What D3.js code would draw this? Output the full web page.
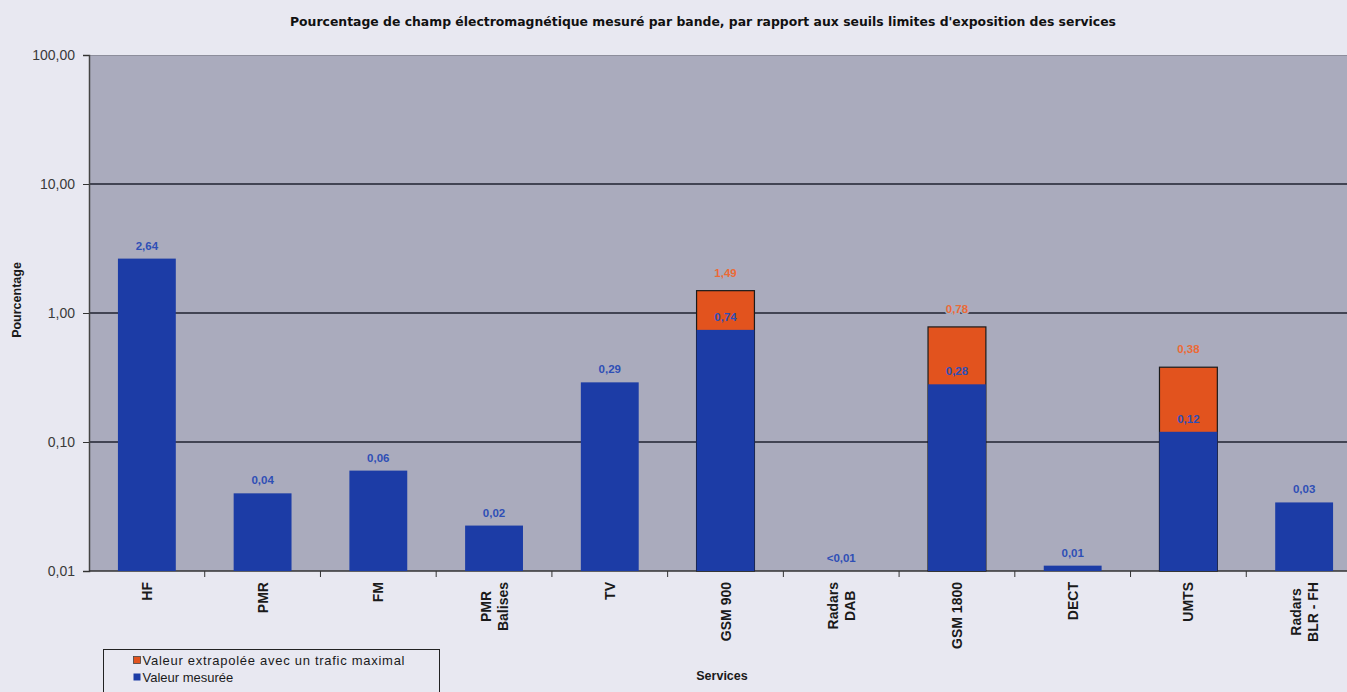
<!DOCTYPE html>
<html>
<head>
<meta charset="utf-8">
<script src="https://cdn.jsdelivr.net/npm/d3@7"></script>
<style>
  html, body { margin: 0; padding: 0; background: #e8e8f1; }
  svg { display: block; }
</style>
</head>
<body>
<div id="chart"></div>
<script>
// Services (category labels, \n = line break)
const services = ['HF', 'PMR', 'FM', 'PMR\nBalises', 'TV', 'GSM 900', 'Radars\nDAB', 'GSM 1800', 'DECT', 'UMTS', 'Radars\nBLR - FH'];
// Valeur mesurée (%)
const measured = [2.64, 0.04, 0.06, 0.0225, 0.29, 0.74, 0.005, 0.28, 0.011, 0.12, 0.034];
// Valeur extrapolée avec un trafic maximal (%)
const extrapolated = [null, null, null, null, null, 1.49, null, 0.78, null, 0.38, null];
// y ticks
const yTicks = [0.01, 0.1, 1, 10, 100];
const gridValues = [0.1, 1, 10];

const width = 1347;
const height = 692;
const margin = { top: 55, left: 89, bottom: 121 };
const plotRight = 1362;

const blue = '#1c3ca6';
const orange = '#e2531e';
const plotBg = '#aaabbd';

const svg = d3.select('#chart')
    .append('svg')
    .attr('width', width)
    .attr('height', height);

const x = d3.scaleBand()
    .domain(services)
    .range([margin.left, plotRight])
    .paddingInner(0.5)
    .paddingOuter(0.25);

const y = d3.scaleLog()
    .domain([0.01, 100])
    .range([height - margin.bottom, margin.top])
    .clamp(true);

const fmt = v => v < 0.01 ? '<0,01' : d3.format('.2f')(v).replace('.', ',');

// plot area
svg.append('rect')
    .attr('x', margin.left)
    .attr('y', y(100))
    .attr('width', plotRight - margin.left)
    .attr('height', y(0.01) - y(100))
    .attr('fill', plotBg);

svg.append('line')
    .attr('x1', margin.left).attr('x2', plotRight)
    .attr('y1', y(100) + 0.5).attr('y2', y(100) + 0.5)
    .style('stroke', '#8d8e9c')
    .style('stroke-width', 1);

// gridlines
svg.selectAll('.grid')
    .data(gridValues)
    .enter()
    .append('line')
    .attr('class', 'grid')
    .attr('x1', margin.left).attr('x2', plotRight)
    .attr('y1', d => y(d)).attr('y2', d => y(d))
    .style('stroke', '#1f2230')
    .style('stroke-width', 1.3);

// Y axis
const yAxis = svg.append('g')
    .attr('transform', `translate(${margin.left},0)`)
    .call(d3.axisLeft(y).tickValues(yTicks).tickFormat(d => d3.format('.2f')(d).replace('.', ',')).tickSize(6).tickPadding(8));
yAxis.select('.domain').style('stroke', '#444').style('stroke-width', 1.5);
yAxis.selectAll('line').style('stroke', '#333');
yAxis.selectAll('text')
    .style('font-family', 'Liberation Sans, Arial, sans-serif')
    .style('font-size', '14px')
    .style('fill', '#3a3a3a');

// X axis
const xAxis = svg.append('g')
    .attr('transform', `translate(0,${y(0.01)})`);
xAxis.append('line')
    .attr('x1', margin.left).attr('x2', plotRight)
    .style('stroke', '#333')
    .style('stroke-width', 1.3);
xAxis.selectAll('.xtick')
    .data(services)
    .enter()
    .append('line')
    .attr('x1', d => x(d) + x.bandwidth() + x.step() * 0.25)
    .attr('x2', d => x(d) + x.bandwidth() + x.step() * 0.25)
    .attr('y1', 0).attr('y2', 6)
    .style('stroke', '#333');

// extrapolated bars (behind)
const extData = services.map((s, i) => ({ s, v: extrapolated[i] })).filter(d => d.v != null);
svg.selectAll('.bar-ext')
    .data(extData)
    .enter()
    .append('rect')
    .attr('class', 'bar-ext')
    .attr('x', d => x(d.s))
    .attr('y', d => y(d.v))
    .attr('width', x.bandwidth())
    .attr('height', d => y(0.01) - y(d.v))
    .attr('fill', orange)
    .style('stroke', '#1a1a1a')
    .style('stroke-width', 1.2);

// measured bars
const mData = services.map((s, i) => ({ s, v: measured[i] }));
svg.selectAll('.bar-m')
    .data(mData)
    .enter()
    .append('rect')
    .attr('class', 'bar-m')
    .attr('x', d => x(d.s))
    .attr('y', d => y(d.v))
    .attr('width', x.bandwidth())
    .attr('height', d => y(0.01) - y(d.v))
    .attr('fill', blue);

// labels
const labelStyle = sel => sel
    .attr('text-anchor', 'middle')
    .style('font-family', 'Liberation Sans, Arial, sans-serif')
    .style('font-size', '11.5px')
    .style('font-weight', 'bold')
    .style('paint-order', 'stroke')
    .style('stroke', plotBg)
    .style('stroke-width', 3);

svg.selectAll('.lab-ext')
    .data(extData)
    .enter()
    .append('text')
    .attr('x', d => x(d.s) + x.bandwidth() / 2)
    .attr('y', d => y(d.v) - 14)
    .style('fill', '#ec6a36')
    .call(labelStyle)
    .text(d => fmt(d.v));

svg.selectAll('.lab-m')
    .data(mData)
    .enter()
    .append('text')
    .attr('x', d => x(d.s) + x.bandwidth() / 2)
    .attr('y', d => Math.min(y(d.v), y(0.01)) - 9)
    .style('fill', '#2f4fb6')
    .call(labelStyle)
    .style('stroke', d => extrapolated[services.indexOf(d.s)] != null ? 'none' : plotBg)
    .text(d => fmt(d.v));

// category labels, rotated
const catTop = 582;
services.forEach(s => {
    const g = svg.append('g')
        .attr('transform', `translate(${x(s) + x.bandwidth() / 2},${catTop}) rotate(-90)`);
    const lines = s.split('\n');
    const lh = 17;
    const texts = lines.map((line, i) => g.append('text')
        .attr('text-anchor', 'middle')
        .attr('y', (i - (lines.length - 1) / 2) * lh + 5)
        .style('font-family', 'Liberation Sans, Arial, sans-serif')
        .style('font-size', '14px')
        .style('font-weight', 'bold')
        .style('fill', '#1a1a1a')
        .text(line));
    const maxLen = d3.max(texts, t => t.node().getComputedTextLength());
    texts.forEach(t => t.attr('x', -maxLen / 2));
});

// title
svg.append('text')
    .attr('x', 703)
    .attr('y', 26)
    .attr('text-anchor', 'middle')
    .attr('textLength', 826)
    .attr('lengthAdjust', 'spacingAndGlyphs')
    .style('font-family', "'Liberation Sans Narrow', 'DejaVu Sans Condensed', sans-serif")
    .style('font-size', '12px')
    .style('font-weight', 'bold')
    .style('fill', '#111')
    .text("Pourcentage de champ électromagnétique mesuré par bande, par rapport aux seuils limites d'exposition des services");

// axis titles
svg.append('text')
    .attr('transform', 'translate(21,300) rotate(-90)')
    .attr('text-anchor', 'middle')
    .style('font-family', 'Liberation Sans, Arial, sans-serif')
    .style('font-size', '12.5px')
    .style('font-weight', 'bold')
    .style('fill', '#1a1a1a')
    .text('Pourcentage');

svg.append('text')
    .attr('x', 722)
    .attr('y', 680)
    .attr('text-anchor', 'middle')
    .style('font-family', 'Liberation Sans, Arial, sans-serif')
    .style('font-size', '12.5px')
    .style('font-weight', 'bold')
    .style('fill', '#1a1a1a')
    .text('Services');

// legend
const legend = svg.append('g')
    .attr('transform', 'translate(103.5,649.5)');
legend.append('rect')
    .attr('width', 336)
    .attr('height', 60)
    .attr('fill', 'none')
    .style('stroke', '#222')
    .style('stroke-width', 1);

const legendItems = [
    { label: 'Valeur extrapolée avec un trafic maximal', color: orange },
    { label: 'Valeur mesurée', color: blue }
];
legendItems.forEach((d, i) => {
    legend.append('rect')
        .attr('x', 30)
        .attr('y', 7 + i * 17)
        .attr('width', 7)
        .attr('height', 7)
        .attr('fill', d.color)
        .style('stroke', i === 0 ? '#444' : 'none')
        .style('stroke-width', 0.8);
    legend.append('text')
        .attr('x', 39)
        .attr('y', 15 + i * 17)
        .attr('textLength', i === 0 ? 262 : null)
        .style('font-family', 'Liberation Sans, Arial, sans-serif')
        .style('font-size', '13px')
        .style('fill', '#1a1a1a')
        .text(d.label);
});
</script>
</body>
</html>
